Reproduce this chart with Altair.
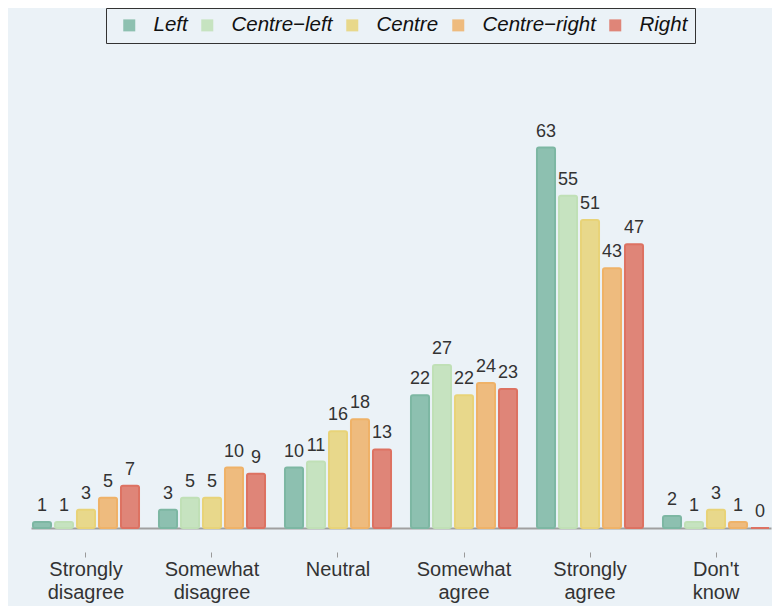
import altair as alt
import pandas as pd

categories = ["Strongly disagree", "Somewhat disagree", "Neutral",
              "Somewhat agree", "Strongly agree", "Don't know"]
parties = ["Left", "Centre\u2212left", "Centre", "Centre\u2212right", "Right"]
left = [1, 3, 10, 22, 63, 2]
centre_left = [1, 5, 11, 27, 55, 1]
centre = [3, 5, 16, 22, 51, 3]
centre_right = [5, 10, 18, 24, 43, 1]
right = [7, 9, 13, 23, 47, 0]
colors = ["#7DB7A3", "#C0E0B6", "#E8D378", "#EFB268", "#DD7262"]

series = [left, centre_left, centre, centre_right, right]
rows = []
for p, vals in zip(parties, series):
    for c, v in zip(categories, vals):
        rows.append({"category": c, "party": p, "value": v})
df = pd.DataFrame(rows)

FONT = "Liberation Sans"
BG = "#EBF2F7"

x = alt.X("category:N", sort=categories,
          scale=alt.Scale(range=[20, 760], paddingInner=0.127, paddingOuter=0),
          axis=alt.Axis(title=None, labelAngle=0, domain=False, ticks=True,
                        tickSize=5, tickColor="#9a9a9a", offset=21,
                        labelFontSize=20, labelColor="#333333", labelFont=FONT,
                        labelPadding=2, labelLineHeight=23,
                        labelExpr="split(datum.label, ' ')"))
xo = alt.XOffset("party:N", sort=parties,
                 scale=alt.Scale(paddingInner=0.18, paddingOuter=0.09))
y = alt.Y("value:Q", scale=alt.Scale(domain=[-0.5, 77.5], nice=False, zero=False),
          axis=alt.Axis(values=[0], grid=True, gridColor="#a0a0a0", gridWidth=2,
                        domain=False, ticks=False, labels=False, title=None))
color = alt.Color("party:N", sort=parties,
                  scale=alt.Scale(domain=parties, range=colors),
                  legend=alt.Legend(title=" ", titleOrient="left", titleFontSize=8,
                                    titlePadding=6,
                                    orient="none", direction="horizontal",
                                    legendX=95, legendY=-52,
                                    labelFontSize=20.5, labelFontStyle="italic",
                                    labelFont=FONT, labelColor="#111111",
                                    symbolType="square", symbolSize=144,
                                    symbolStrokeWidth=0, symbolOpacity=0.85,
                                    labelOffset=14, columnPadding=9,
                                    padding=7,
                                    strokeColor="#333333",
                                    labelExpr="datum.label == 'Right' ? datum.label + '  ' : datum.label"))

base = alt.Chart(df).encode(x=x, xOffset=xo, y=y)

bars = base.mark_bar(fillOpacity=0.85, cornerRadius=2).encode(
    y2=alt.datum(0), color=color
)

outline = base.mark_bar(filled=False, strokeWidth=2, cornerRadius=2).encode(
    y2=alt.datum(0), color=color
)

labels = base.mark_text(fontSize=18, font=FONT, color="#333333",
                        baseline="alphabetic", dy=-11).encode(
    text=alt.Text("value:Q")
)

chart = alt.layer(bars, outline, labels).properties(
    width=761, height=471,
    background=BG,
    autosize=alt.AutoSizeParams(type="none"),
    padding={"left": 3, "top": 52, "right": 0, "bottom": 75},
).configure_view(stroke=None)

chart.save("out.html", embed_options={"renderer": "svg", "actions": False})
